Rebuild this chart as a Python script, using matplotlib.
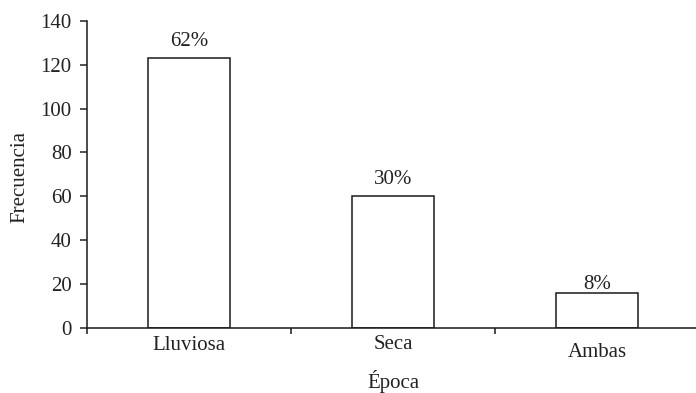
import numpy as np
import matplotlib
matplotlib.use("Agg")
import matplotlib.pyplot as plt
from matplotlib.transforms import blended_transform_factory

plt.rcParams['font.family'] = ['Liberation Serif', 'DejaVu Serif']

# Frecuencia por época
epocas = ['Lluviosa', 'Seca', 'Ambas']
frecuencia = [123, 60, 16]
porcentajes = ['62%', '30%', '8%']

fs = 15

fig = plt.figure(figsize=(6.96, 3.93), dpi=100)
ax = fig.add_axes([87 / 696, 65 / 393, 612 / 696, 307.3 / 393])

x = np.arange(len(epocas)) + 0.5
ax.bar(x, frecuencia, width=0.4, color='white', edgecolor='#1a1a1a', linewidth=1.1)

# etiquetas de porcentaje encima de cada barra
offsets = [5, 5, -1]
for xi, v, p, off in zip(x, frecuencia, porcentajes, offsets):
    ax.annotate(p, (xi, v), textcoords='offset points', xytext=(0, off),
                ha='center', va='bottom', fontsize=fs, color='#222222')

ax.set_xlim(0, 3)
ax.set_ylim(0, 140)
ax.set_yticks(range(0, 141, 20))
ax.set_xticks([0, 1, 2, 3])
ax.set_xticklabels([])

for s in ['top', 'right']:
    ax.spines[s].set_visible(False)
for s in ['left', 'bottom']:
    ax.spines[s].set_linewidth(1.1)
    ax.spines[s].set_color('#1a1a1a')

ax.tick_params(axis='y', direction='out', length=5, width=1.1, pad=6,
               labelsize=fs, colors='#222222')
ax.tick_params(axis='x', direction='out', length=4.5, width=1.1, colors='#1a1a1a')

# nombres de categoría bajo el eje
trans = blended_transform_factory(ax.transData, ax.transAxes)
label_y = [-0.058, -0.055, -0.081]
for xi, name, ly in zip(x, epocas, label_y):
    ax.text(xi, ly, name, transform=trans, ha='center', va='center',
            fontsize=fs, color='#222222')

ax.text(0.5, -0.173, 'Época', transform=ax.transAxes, ha='center', va='center',
        fontsize=fs, color='#222222')
fig.text(20 / 696, 1 - 177 / 393, 'Frecuencia', rotation=90, ha='center', va='center',
         fontsize=fs, color='#222222')

fig.savefig('out.png', dpi=100)
